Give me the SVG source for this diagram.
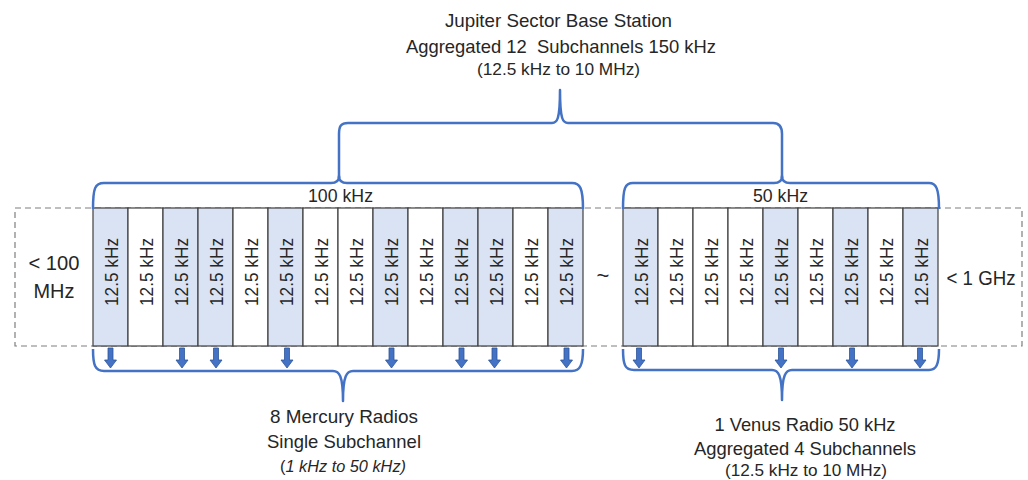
<svg xmlns="http://www.w3.org/2000/svg" width="1028" height="480" viewBox="0 0 1028 480">
<style>
text{font-family:"Liberation Sans",Arial,sans-serif;fill:#262626}
.cell{stroke:#404040;stroke-width:1.2;fill:#ffffff}
.sh{fill:#dae3f3}
.ct{font-size:19px;text-anchor:middle}
.brace{fill:none;stroke:#4472c4;stroke-width:2.5;stroke-linejoin:round}
.lbl{text-anchor:middle}
</style>
<defs>
<path id="arr" d="M-2.5,0 H2.5 V12 H6 L0,20 L-6,12 H-2.5 Z" fill="#4472c4" stroke="#2f5597" stroke-width="0.8"/>
</defs>
<rect width="1028" height="480" fill="#ffffff"/>
<rect id="band" x="15" y="208" width="1007" height="138" fill="none" stroke="#7f7f7f" stroke-width="1.2" stroke-dasharray="6 4"/>

<g id="group-left">
<rect class="cell sh" x="93" y="208" width="35" height="138"/>
<rect class="cell" x="128" y="208" width="35" height="138"/>
<rect class="cell sh" x="163" y="208" width="35" height="138"/>
<rect class="cell sh" x="198" y="208" width="35" height="138"/>
<rect class="cell" x="233" y="208" width="35" height="138"/>
<rect class="cell sh" x="268" y="208" width="35" height="138"/>
<rect class="cell" x="303" y="208" width="35" height="138"/>
<rect class="cell" x="338" y="208" width="35" height="138"/>
<rect class="cell sh" x="373" y="208" width="35" height="138"/>
<rect class="cell" x="408" y="208" width="35" height="138"/>
<rect class="cell sh" x="443" y="208" width="35" height="138"/>
<rect class="cell sh" x="478" y="208" width="35" height="138"/>
<rect class="cell" x="513" y="208" width="35" height="138"/>
<rect class="cell sh" x="548" y="208" width="35" height="138"/>
<text class="ct" textLength="68" lengthAdjust="spacingAndGlyphs" transform="translate(117.5,272) rotate(-90)">12.5 kHz</text>
<text class="ct" textLength="68" lengthAdjust="spacingAndGlyphs" transform="translate(152.5,272) rotate(-90)">12.5 kHz</text>
<text class="ct" textLength="68" lengthAdjust="spacingAndGlyphs" transform="translate(187.5,272) rotate(-90)">12.5 kHz</text>
<text class="ct" textLength="68" lengthAdjust="spacingAndGlyphs" transform="translate(222.5,272) rotate(-90)">12.5 kHz</text>
<text class="ct" textLength="68" lengthAdjust="spacingAndGlyphs" transform="translate(257.5,272) rotate(-90)">12.5 kHz</text>
<text class="ct" textLength="68" lengthAdjust="spacingAndGlyphs" transform="translate(292.5,272) rotate(-90)">12.5 kHz</text>
<text class="ct" textLength="68" lengthAdjust="spacingAndGlyphs" transform="translate(327.5,272) rotate(-90)">12.5 kHz</text>
<text class="ct" textLength="68" lengthAdjust="spacingAndGlyphs" transform="translate(362.5,272) rotate(-90)">12.5 kHz</text>
<text class="ct" textLength="68" lengthAdjust="spacingAndGlyphs" transform="translate(397.5,272) rotate(-90)">12.5 kHz</text>
<text class="ct" textLength="68" lengthAdjust="spacingAndGlyphs" transform="translate(432.5,272) rotate(-90)">12.5 kHz</text>
<text class="ct" textLength="68" lengthAdjust="spacingAndGlyphs" transform="translate(467.5,272) rotate(-90)">12.5 kHz</text>
<text class="ct" textLength="68" lengthAdjust="spacingAndGlyphs" transform="translate(502.5,272) rotate(-90)">12.5 kHz</text>
<text class="ct" textLength="68" lengthAdjust="spacingAndGlyphs" transform="translate(537.5,272) rotate(-90)">12.5 kHz</text>
<text class="ct" textLength="68" lengthAdjust="spacingAndGlyphs" transform="translate(572.5,272) rotate(-90)">12.5 kHz</text>
</g>

<g id="group-right">
<rect class="cell sh" x="623" y="208" width="35" height="138"/>
<rect class="cell" x="658" y="208" width="35" height="138"/>
<rect class="cell" x="693" y="208" width="35" height="138"/>
<rect class="cell" x="728" y="208" width="35" height="138"/>
<rect class="cell sh" x="763" y="208" width="35" height="138"/>
<rect class="cell" x="798" y="208" width="35" height="138"/>
<rect class="cell sh" x="833" y="208" width="35" height="138"/>
<rect class="cell" x="868" y="208" width="35" height="138"/>
<rect class="cell sh" x="903" y="208" width="35" height="138"/>
<text class="ct" textLength="68" lengthAdjust="spacingAndGlyphs" transform="translate(647.5,272) rotate(-90)">12.5 kHz</text>
<text class="ct" textLength="68" lengthAdjust="spacingAndGlyphs" transform="translate(682.5,272) rotate(-90)">12.5 kHz</text>
<text class="ct" textLength="68" lengthAdjust="spacingAndGlyphs" transform="translate(717.5,272) rotate(-90)">12.5 kHz</text>
<text class="ct" textLength="68" lengthAdjust="spacingAndGlyphs" transform="translate(752.5,272) rotate(-90)">12.5 kHz</text>
<text class="ct" textLength="68" lengthAdjust="spacingAndGlyphs" transform="translate(787.5,272) rotate(-90)">12.5 kHz</text>
<text class="ct" textLength="68" lengthAdjust="spacingAndGlyphs" transform="translate(822.5,272) rotate(-90)">12.5 kHz</text>
<text class="ct" textLength="68" lengthAdjust="spacingAndGlyphs" transform="translate(857.5,272) rotate(-90)">12.5 kHz</text>
<text class="ct" textLength="68" lengthAdjust="spacingAndGlyphs" transform="translate(892.5,272) rotate(-90)">12.5 kHz</text>
<text class="ct" textLength="68" lengthAdjust="spacingAndGlyphs" transform="translate(927.5,272) rotate(-90)">12.5 kHz</text>
</g>

<g id="band-labels">
<text class="lbl" x="54" y="270" font-size="20" textLength="51" lengthAdjust="spacingAndGlyphs">&lt; 100</text>
<text class="lbl" x="54" y="298" font-size="20" textLength="41" lengthAdjust="spacingAndGlyphs">MHz</text>
<text class="lbl" x="981" y="285" font-size="20" textLength="69" lengthAdjust="spacingAndGlyphs">&lt; 1 GHz</text>
<text class="lbl" x="603" y="283" font-size="22">~</text>
</g>

<g id="connectors">
<path class="brace" d="M93,209 C93,188 95,183 104,183 H331 C336,183 339,181 339,176 C339,181 342,183 347,183 H572 C580,183 583,188 583,209"/>
<path class="brace" d="M623,209 C623,188 625,183 633,183 H774 C779,183 782,181 782,176 C782,181 785,183 790,183 H929 C936,183 939,188 939,209"/>
<path class="brace" d="M339,178 V134 C339,126 341,123 348,123 H552 C557,123 560,120 560,90 C560,120 563,123 568,123 H773 C779,123 782,126 782,134 V178"/>
<path class="brace" d="M93,349 C93,365 95,371 104,371 H333 C339,371 343,375 343,401 C343,375 347,371 353,371 H572 C580,371 583,365 583,349"/>
<path class="brace" d="M623,349 C623,365 625,370 634,370 H772 C778,370 782,374 782,400 C782,374 786,370 792,370 H929 C936,370 939,365 939,349"/>
<use href="#arr" x="110.5" y="348"/>
<use href="#arr" x="182" y="348"/>
<use href="#arr" x="216" y="348"/>
<use href="#arr" x="287" y="348"/>
<use href="#arr" x="391.5" y="348"/>
<use href="#arr" x="461.5" y="348"/>
<use href="#arr" x="494.5" y="348"/>
<use href="#arr" x="566.5" y="348"/>
<use href="#arr" x="639" y="348"/>
<use href="#arr" x="781" y="348"/>
<use href="#arr" x="852" y="348"/>
<use href="#arr" x="920" y="348"/>
</g>

<g id="jupiter">
<text class="lbl" x="558.5" y="27" font-size="19" textLength="227" lengthAdjust="spacingAndGlyphs">Jupiter Sector Base Station</text>
<text class="lbl" x="561" y="53" font-size="19" textLength="310" lengthAdjust="spacingAndGlyphs" xml:space="preserve">Aggregated 12  Subchannels 150 kHz</text>
<text class="lbl" x="558.5" y="75" font-size="16" textLength="163" lengthAdjust="spacingAndGlyphs">(12.5 kHz to 10 MHz)</text>
</g>
<g id="width-labels">
<text class="lbl" x="340.5" y="202" font-size="19" textLength="65" lengthAdjust="spacingAndGlyphs">100 kHz</text>
<text class="lbl" x="780.5" y="202" font-size="19" textLength="55" lengthAdjust="spacingAndGlyphs">50 kHz</text>
</g>
<g id="mercury">
<text class="lbl" x="344" y="423" font-size="19" textLength="148" lengthAdjust="spacingAndGlyphs">8 Mercury Radios</text>
<text class="lbl" x="344" y="448" font-size="19" textLength="154" lengthAdjust="spacingAndGlyphs">Single Subchannel</text>
<text class="lbl" x="343" y="472" font-size="17" textLength="126" lengthAdjust="spacingAndGlyphs">(<tspan font-style="italic">1 kHz to 50 kHz)</tspan></text>
</g>
<g id="venus">
<text class="lbl" x="805" y="431" font-size="19" textLength="181" lengthAdjust="spacingAndGlyphs">1 Venus Radio 50 kHz</text>
<text class="lbl" x="805" y="455" font-size="19" textLength="222" lengthAdjust="spacingAndGlyphs">Aggregated 4 Subchannels</text>
<text class="lbl" x="806" y="476" font-size="16" textLength="162" lengthAdjust="spacingAndGlyphs">(12.5 kHz to 10 MHz)</text>
</g>
</svg>
